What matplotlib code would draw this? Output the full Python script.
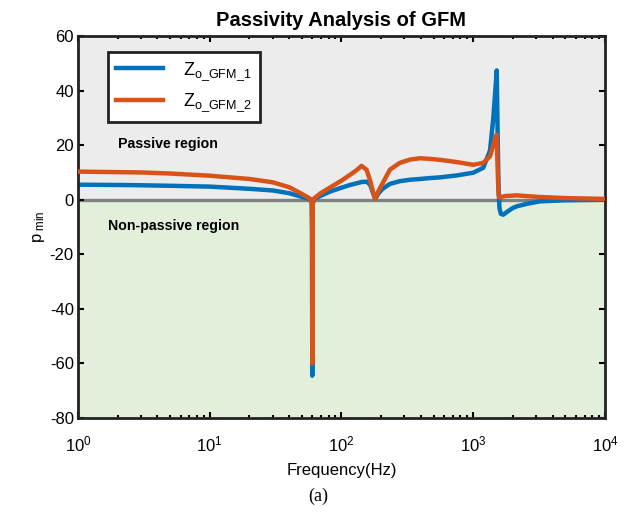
import numpy as np
import matplotlib
matplotlib.use("Agg")
import matplotlib.pyplot as plt

plt.rcParams['font.family'] = ['Liberation Sans', 'DejaVu Sans']
plt.rcParams['mathtext.fontset'] = 'custom'
plt.rcParams['mathtext.rm'] = 'Liberation Sans'
plt.rcParams['mathtext.it'] = 'Liberation Sans:italic'
plt.rcParams['mathtext.bf'] = 'Liberation Sans:bold'
plt.rcParams['axes.unicode_minus'] = False

# frequency points (Hz)
freq = [1, 2, 3, 5, 10, 20, 30, 40, 48, 55, 58, 59.5, 59.8, 60, 60.2, 60.5,
        62, 70, 82, 100, 116, 130, 142, 155, 165, 172, 180, 190, 205, 233,
        277, 330, 395, 460, 560, 750, 1000, 1190, 1340, 1420, 1470, 1507,
        1530, 1555, 1580, 1620, 1690, 1800, 2000, 2150, 2560, 3200, 5000, 10000]

# p_min for Zo_GFM_1
pmin_1 = [5.5, 5.4, 5.3, 5.1, 4.8, 4.0, 3.4, 2.4, 1.3, 0.5, 0.2, -1.5, -12, -64.5, -12, -1.5,
          0.3, 1.5, 3.0, 4.4, 5.4, 6.0, 6.5, 6.6, 5.5, 3.0, 0.3, 2.2, 4.0, 5.8,
          6.8, 7.3, 7.6, 7.9, 8.2, 8.9, 9.9, 11.7, 18, 30, 40, 47.4,
          25, 5, -3, -5.2, -5.5, -4.5, -3.0, -2.4, -1.5, -0.6, -0.2, 0.0]

# p_min for Zo_GFM_2
pmin_2 = [10.3, 10.1, 10.0, 9.6, 8.8, 7.6, 6.4, 4.6, 2.6, 1.0, 0.3, -1.5, -12, -60, -12, -1.5,
          0.5, 2.5, 4.5, 7.0, 9.1, 10.8, 12.4, 11.0, 7.0, 3.5, 0.3, 3.0, 6.0, 11.0,
          13.5, 14.7, 15.2, 15.0, 14.6, 13.8, 12.8, 13.5, 15.9, 20, 23, 23.8,
          12, 2, 0.8, 1.0, 1.2, 1.4, 1.5, 1.6, 1.3, 1.0, 0.6, 0.3]

labels = [r'$\mathregular{Z_{o\_GFM\_1}}$', r'$\mathregular{Z_{o\_GFM\_2}}$']
colors = ['#0072BD', '#D95319']

fig = plt.figure(figsize=(6.37, 5.12), dpi=100)
ax = fig.add_axes([0.1224, 0.1836, 0.8274, 0.7461])

# regions
ax.axhspan(0, 60, color='#ececec', zorder=0)
ax.axhspan(-80, 0, color='#e2efda', zorder=0)
ax.axhline(0, color='#808080', lw=2.4, zorder=1)

ax.semilogx(freq, pmin_1, color=colors[0], lw=3.2, label=labels[0], zorder=2)
ax.semilogx(freq, pmin_2, color=colors[1], lw=3.2, label=labels[1], zorder=3)

ax.set_xlim(1, 1e4)
ax.set_ylim(-80, 60)
ax.set_yticks(np.arange(-80, 61, 20))

ax.text(2.0, 20.5, 'Passive region', fontsize=10.2, fontweight='bold', va='center')
ax.text(1.7, -9.5, 'Non-passive region', fontsize=10.2, fontweight='bold', va='center')

ax.set_title('Passivity Analysis of GFM', fontsize=14.5, fontweight='bold', pad=7)
ax.set_xlabel('Frequency(Hz)', fontsize=12, labelpad=6)
ax.set_ylabel(r'$\mathregular{p_{\ min}}$', fontsize=12, labelpad=2)

ax.tick_params(axis='both', which='both', direction='in', top=True, right=True,
               labelsize=12, width=1.5)
ax.tick_params(axis='both', which='major', length=4)
ax.tick_params(axis='x', which='minor', length=2.5)
ax.tick_params(axis='x', pad=12)
ax.tick_params(axis='y', pad=3)
for s in ax.spines.values():
    s.set_linewidth(2)
    s.set_color('#222222')

leg = ax.legend(loc='upper left', bbox_to_anchor=(0.057, 0.958), fontsize=13,
                fancybox=False, framealpha=1, edgecolor='#222222',
                handlelength=2.6, handletextpad=1.1, borderpad=0.45,
                labelspacing=0.5, borderaxespad=0)
leg.get_frame().set_linewidth(2)

fig.text(0.5, 0.022, '(a)', fontsize=13, ha='center',
         family=['Liberation Serif', 'DejaVu Serif'])

fig.savefig('out.png', dpi=100)
